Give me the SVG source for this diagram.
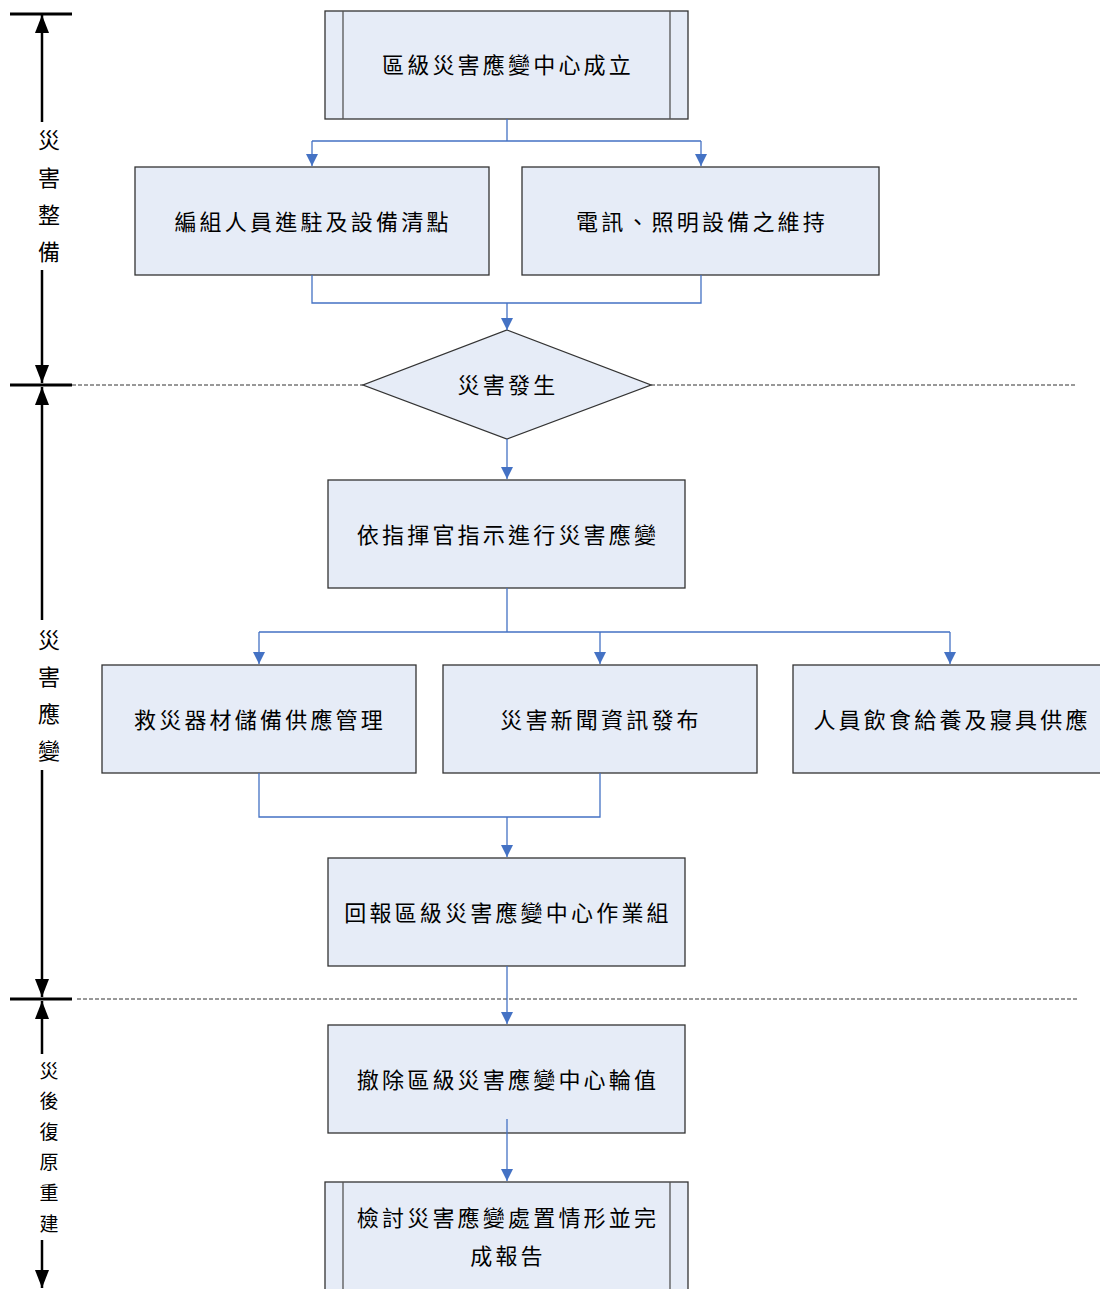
<svg xmlns="http://www.w3.org/2000/svg" width="1100" height="1289" viewBox="0 0 1100 1289">
<style>
.box{fill:#e6ecf7;stroke:#333;stroke-width:1.3}
.inner{stroke:#555;stroke-width:1.3;fill:none}
.t{font-family:"Noto Sans CJK TC","Noto Sans CJK SC",sans-serif;font-size:22px;letter-spacing:3.2px;fill:#000;text-anchor:middle;dominant-baseline:central}
.side{font-family:"Noto Sans CJK TC","Noto Sans CJK SC",sans-serif;font-size:22px;fill:#000;text-anchor:middle;dominant-baseline:central}
.side2{font-family:"Noto Sans CJK TC","Noto Sans CJK SC",sans-serif;font-size:19px;fill:#000;text-anchor:middle;dominant-baseline:central}
.c{fill:none;stroke:#4472c4;stroke-width:1.3}
.ca{fill:none;stroke:#4472c4;stroke-width:1.3;marker-end:url(#ba)}
.k{stroke:#000;stroke-width:3;fill:none}
.ka{stroke:#000;stroke-width:2.5;fill:none;marker-end:url(#ka)}
.dash{stroke:#333;stroke-width:1;stroke-dasharray:4 2;fill:none}
</style>
<defs>
<marker id="ba" markerUnits="userSpaceOnUse" markerWidth="12" markerHeight="14" refX="12" refY="6" orient="auto" viewBox="0 0 12 12">
<path d="M0,0 L12,6 L0,12 z" fill="#4472c4"/>
</marker>
<marker id="ka" markerUnits="userSpaceOnUse" markerWidth="18" markerHeight="14" refX="18" refY="7" orient="auto" viewBox="0 0 18 14">
<path d="M0,0 L18,7 L0,14 z" fill="#000"/>
</marker>
</defs>

<g id="timeline">
<line class="k" x1="10" y1="14" x2="72" y2="14"/>
<line class="k" x1="10" y1="385" x2="72" y2="385"/>
<line class="k" x1="10" y1="999" x2="72" y2="999"/>
<line class="ka" x1="42" y1="122" x2="42" y2="15"/>
<line class="ka" x1="42" y1="270" x2="42" y2="383"/>
<line class="ka" x1="42" y1="620" x2="42" y2="387"/>
<line class="ka" x1="42" y1="770" x2="42" y2="997"/>
<line class="ka" x1="42" y1="1054" x2="42" y2="1001"/>
<line class="ka" x1="42" y1="1240" x2="42" y2="1288"/>
<text class="side"><tspan x="49" y="138">災</tspan><tspan x="49" y="176">害</tspan><tspan x="49" y="213">整</tspan><tspan x="49" y="250">備</tspan></text>
<text class="side"><tspan x="49" y="638">災</tspan><tspan x="49" y="675">害</tspan><tspan x="49" y="712">應</tspan><tspan x="49" y="749">變</tspan></text>
<text class="side2"><tspan x="49" y="1069">災</tspan><tspan x="49" y="1099">後</tspan><tspan x="49" y="1130">復</tspan><tspan x="49" y="1160">原</tspan><tspan x="49" y="1191">重</tspan><tspan x="49" y="1222">建</tspan></text>
<line class="dash" x1="72" y1="385" x2="363" y2="385"/>
<line class="dash" x1="651" y1="385" x2="1077" y2="385"/>
<line class="dash" x1="77" y1="999" x2="1077" y2="999"/>
</g>

<g id="n1">
<rect class="box" x="325" y="11" width="363" height="108"/>
<line class="inner" x1="343" y1="11" x2="343" y2="119"/>
<line class="inner" x1="670" y1="11" x2="670" y2="119"/>
<text class="t" x="508" y="63">區級災害應變中心成立</text>
</g>
<g id="n2">
<rect class="box" x="135" y="167" width="354" height="108"/>
<text class="t" x="313" y="220">編組人員進駐及設備清點</text>
</g>
<g id="n3">
<rect class="box" x="522" y="167" width="357" height="108"/>
<text class="t" x="702" y="220">電訊、照明設備之維持</text>
</g>
<g id="n4">
<polygon class="box" points="507,330 651,385 507,439 363,385"/>
<text class="t" x="508" y="383">災害發生</text>
</g>
<g id="n5">
<rect class="box" x="328" y="480" width="357" height="108"/>
<text class="t" x="508" y="533">依指揮官指示進行災害應變</text>
</g>
<g id="n6">
<rect class="box" x="102" y="665" width="314" height="108"/>
<text class="t" x="260" y="718">救災器材儲備供應管理</text>
</g>
<g id="n7">
<rect class="box" x="443" y="665" width="314" height="108"/>
<text class="t" x="601" y="718">災害新聞資訊發布</text>
</g>
<g id="n8">
<rect class="box" x="793" y="665" width="320" height="108"/>
<text class="t" x="952" y="718">人員飲食給養及寢具供應</text>
</g>
<g id="n9">
<rect class="box" x="328" y="858" width="357" height="108"/>
<text class="t" x="508" y="911">回報區級災害應變中心作業組</text>
</g>
<g id="n10">
<rect class="box" x="328" y="1025" width="357" height="108"/>
<text class="t" x="508" y="1078">撤除區級災害應變中心輪值</text>
</g>
<g id="n11">
<rect class="box" x="325" y="1182" width="363" height="120"/>
<line class="inner" x1="343" y1="1182" x2="343" y2="1302"/>
<line class="inner" x1="670" y1="1182" x2="670" y2="1302"/>
<text class="t" x="508" y="1216">檢討災害應變處置情形並完</text>
<text class="t" x="508" y="1254">成報告</text>
</g>

<g id="connectors">
<path class="c" d="M507,119 V141 M312,141 H701"/>
<path class="ca" d="M312,141 V166"/>
<path class="ca" d="M701,141 V166"/>
<path class="c" d="M312,275 V303 H701 V275"/>
<path class="ca" d="M507,303 V330"/>
<path class="ca" d="M507,439 V479"/>
<path class="c" d="M507,588 V632 M259,632 H950"/>
<path class="ca" d="M259,632 V664"/>
<path class="ca" d="M600,632 V664"/>
<path class="ca" d="M950,632 V664"/>
<path class="c" d="M259,773 V817 H600 V773"/>
<path class="ca" d="M507,817 V857"/>
<path class="ca" d="M507,966 V1024"/>
<path class="ca" d="M507,1119 V1181"/>
</g>
</svg>
